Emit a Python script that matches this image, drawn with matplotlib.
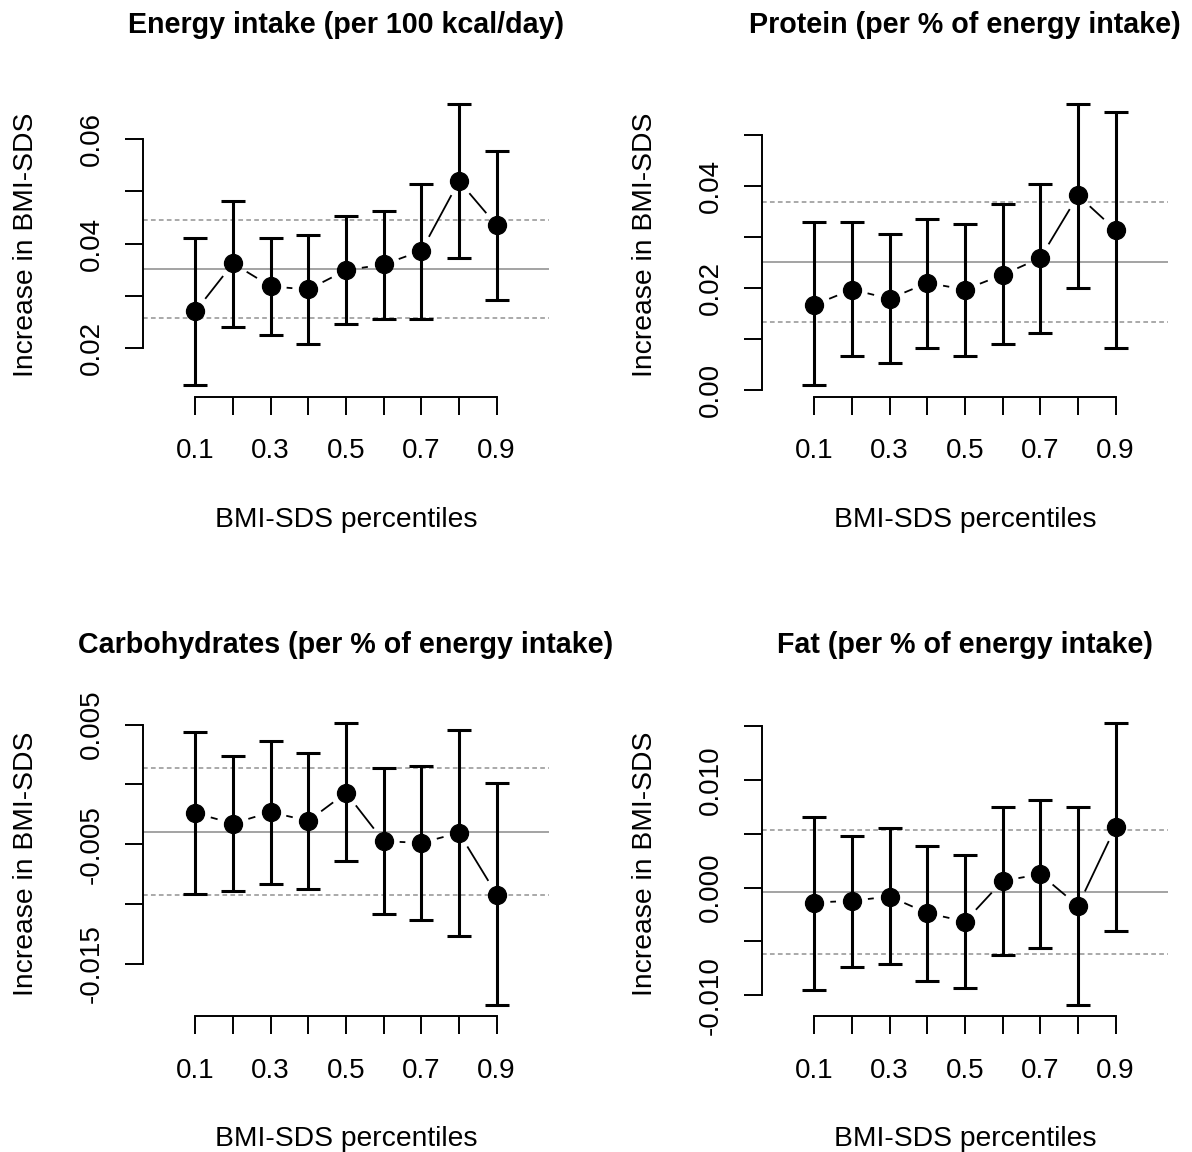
import numpy as np
import matplotlib
matplotlib.use("Agg")
import matplotlib.pyplot as plt

plt.rcParams['font.family'] = ['Liberation Sans', 'DejaVu Sans']

# ---------------- data ----------------
percentiles = [0.1, 0.2, 0.3, 0.4, 0.5, 0.6, 0.7, 0.8, 0.9]
xtick_labels = ['0.1', '', '0.3', '', '0.5', '', '0.7', '', '0.9']

titles = ['Energy intake (per 100 kcal/day)',
          'Protein (per % of energy intake)',
          'Carbohydrates (per % of energy intake)',
          'Fat (per % of energy intake)']

energy_est = [0.0270, 0.0362, 0.0318, 0.0312, 0.0349, 0.0360, 0.0386, 0.0520, 0.0435]
energy_lo = [0.0128, 0.0241, 0.0225, 0.0208, 0.0245, 0.0256, 0.0256, 0.0373, 0.0292]
energy_hi = [0.0411, 0.0481, 0.0411, 0.0417, 0.0453, 0.0463, 0.0515, 0.0668, 0.0578]
energy_ref = [0.0352, 0.0258, 0.0445]   # estimate, lower, upper
energy_yticks = [0.02, 0.03, 0.04, 0.05, 0.06]
energy_ylabels = ['0.02', '', '0.04', '', '0.06']

protein_est = [0.0167, 0.0197, 0.0179, 0.0210, 0.0197, 0.0226, 0.0259, 0.0382, 0.0314]
protein_lo = [0.00085, 0.0067, 0.0052, 0.0083, 0.0067, 0.0089, 0.0112, 0.0200, 0.0082]
protein_hi = [0.0329, 0.0330, 0.0306, 0.0336, 0.0326, 0.0365, 0.0405, 0.0562, 0.0546]
protein_ref = [0.0251, 0.0133, 0.0369]
protein_yticks = [0.00, 0.01, 0.02, 0.03, 0.04, 0.05]
protein_ylabels = ['0.00', '', '0.02', '', '0.04', '']

carb_est = [-0.0024, -0.00327, -0.00232, -0.00305, -0.0007, -0.00475, -0.00489, -0.00405, -0.00921]
carb_lo = [-0.00916, -0.00894, -0.00829, -0.00874, -0.00642, -0.0108, -0.01137, -0.01265, -0.01843]
carb_hi = [0.0044, 0.00237, 0.00363, 0.00265, 0.0051, 0.00139, 0.00156, 0.00455, 0.00008]
carb_ref = [-0.00394, -0.00927, 0.00137]
carb_yticks = [-0.015, -0.010, -0.005, 0.000, 0.005]
carb_ylabels = ['-0.015', '', '-0.005', '', '0.005']

fat_est = [-0.00139, -0.00123, -0.00083, -0.00237, -0.00315, 0.00062, 0.00124, -0.0017, 0.00566]
fat_lo = [-0.00948, -0.00738, -0.0071, -0.00871, -0.00933, -0.00624, -0.00562, -0.01088, -0.00401]
fat_hi = [0.00658, 0.00482, 0.00556, 0.00389, 0.00303, 0.00748, 0.00816, 0.00751, 0.01524]
fat_ref = [-0.00037, -0.00615, 0.00535]
fat_yticks = [-0.010, -0.005, 0.000, 0.005, 0.010, 0.015]
fat_ylabels = ['-0.010', '', '0.000', '', '0.010', '']

xlabel = 'BMI-SDS percentiles'
ylabel = 'Increase in BMI-SDS'

panels = [
    (energy_est, energy_lo, energy_hi, energy_ref, energy_yticks, energy_ylabels),
    (protein_est, protein_lo, protein_hi, protein_ref, protein_yticks, protein_ylabels),
    (carb_est, carb_lo, carb_hi, carb_ref, carb_yticks, carb_ylabels),
    (fat_est, fat_lo, fat_hi, fat_ref, fat_yticks, fat_ylabels),
]

# ---------------- layout (pixels) ----------------
W, H = 1192, 1152
boxes = [  # left, top, right, bottom
    (142.6, 92.6, 549.4, 396.7),
    (761.6, 92.6, 1168.4, 396.7),
    (142.6, 712.2, 549.4, 1016.0),
    (761.6, 712.2, 1168.4, 1016.0),
]

fig = plt.figure(figsize=(W / 100, H / 100), dpi=100)
GREY = '#a3a3a3'
GAP_PX = 16.0

for (est, lo, hi, ref, yt, yl), title, (l, t, r, b) in zip(panels, titles, boxes):
    ax = fig.add_axes([l / W, 1 - b / H, (r - l) / W, (b - t) / H])
    x = np.array(percentiles)
    est = np.array(est); lo = np.array(lo); hi = np.array(hi)

    # R-like limits (4% extension)
    ax.set_xlim(-0.04, 1.04)
    ymin, ymax = lo.min(), hi.max()
    pad = 0.04 * (ymax - ymin)
    ax.set_ylim(ymin - pad, ymax + pad)

    # reference lines
    ax.axhline(ref[0], color=GREY, lw=1.4, zorder=1)
    ax.axhline(ref[1], color=GREY, lw=1.3, ls=(0, (2.6, 1.8)), zorder=1)
    ax.axhline(ref[2], color=GREY, lw=1.3, ls=(0, (2.6, 1.8)), zorder=1)

    # error bars + points
    ax.errorbar(x, est, yerr=[est - lo, hi - est], fmt='o', color='black',
                ms=12.9, elinewidth=2.2, capsize=8.3, capthick=2.2, zorder=3)

    # connecting segments with gaps (R type = "b")
    pts = ax.transData.transform(np.column_stack([x, est]))
    inv = ax.transData.inverted()
    for i in range(len(pts) - 1):
        p0, p1 = pts[i], pts[i + 1]
        d = p1 - p0
        L = np.hypot(*d)
        if L > 2 * GAP_PX:
            u = d / L
            a = inv.transform(p0 + u * GAP_PX)
            c = inv.transform(p1 - u * GAP_PX)
            ax.plot([a[0], c[0]], [a[1], c[1]], color='black', lw=1.3,
                    solid_capstyle='butt', zorder=2)

    # axes styling
    for s in ('top', 'right'):
        ax.spines[s].set_visible(False)
    ax.spines['left'].set_bounds(yt[0], yt[-1])
    ax.spines['bottom'].set_bounds(percentiles[0], percentiles[-1])
    for s in ('left', 'bottom'):
        ax.spines[s].set_linewidth(1.4)
    ax.set_xticks(percentiles)
    ax.set_xticklabels(xtick_labels, fontsize=20)
    ax.set_yticks(yt)
    ax.set_yticklabels(yl, fontsize=20, rotation=90, va='center')
    ax.tick_params(axis='x', direction='out', length=13, width=1.4, pad=17)
    ax.tick_params(axis='y', direction='out', length=12.7, width=1.4, pad=14.5)

    ax.text(0.5, 1.195, title, transform=ax.transAxes, ha='center',
            va='baseline', fontsize=20.6, fontweight='bold')
    ax.text(0.5, -0.4275, xlabel, transform=ax.transAxes, ha='center',
            va='baseline', fontsize=20.3)
    ax.text(-0.2687, 0.5, ylabel, transform=ax.transAxes, ha='center',
            va='baseline', rotation=90, rotation_mode='anchor', fontsize=20.3)

fig.savefig('out.png', dpi=100)
